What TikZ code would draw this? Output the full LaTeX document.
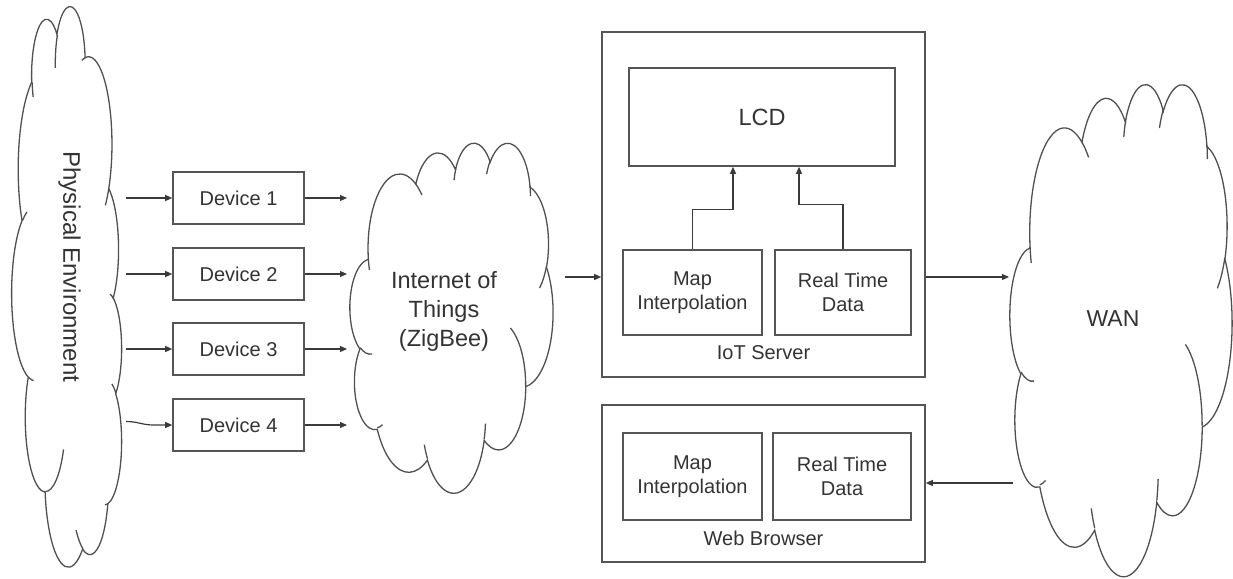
\documentclass[tikz,border=0pt]{standalone}
\usepackage{fontspec}
\setmainfont{Liberation Sans}
\usetikzlibrary{arrows.meta}
\definecolor{linecol}{HTML}{3A3A3A}
\definecolor{boxcol}{HTML}{555555}
\definecolor{cloudcol}{HTML}{505050}
\definecolor{txtcol}{HTML}{333333}
% one arc of the cloud outline; angles given as visual angles, converted to parametric ones
\newcommand\CArc[4]{%
  \pgfmathsetmacro\CAa{atan2((#1)*sin(#3),(#2)*cos(#3))}%
  \pgfmathsetmacro\CAb{atan2((#1)*sin((#3)+(#4)),(#2)*cos((#3)+(#4)))}%
  \pgfmathsetmacro\CAd{mod(\CAb-(\CAa)+720,360)}%
  \pgfmathsetmacro\CAe{\CAa+\CAd}%
  \pgfpatharcaxes{\CAa}{\CAe}{\pgfpointxy{#1}{0}}{\pgfpointxy{0}{#2}}%
}
\newcommand\CloudOutline{%
  \pgfpathmoveto{\pgfpointxy{3.900}{14.370}}%
  \CArc{6.753}{9.190}{-190.4875}{123.7805}%
  \CArc{5.333}{7.267}{-144.1024}{89.9452}%
  \CArc{4.365}{5.945}{-145.8079}{99.7230}%
  \CArc{4.857}{6.595}{-130.9861}{117.2417}%
  \CArc{5.333}{7.273}{-78.7089}{109.0269}%
  \CArc{6.775}{9.220}{-46.2673}{130.2690}%
  \CArc{5.785}{7.867}{0.6250}{114.0333}%
  \CArc{6.752}{9.215}{22.4516}{115.1726}%
  \CArc{7.720}{10.543}{66.2426}{75.7110}%
  \CArc{4.360}{5.918}{-274.9421}{146.7356}%
  \CArc{4.345}{5.945}{-246.8285}{152.5189}%
  \pgfpathclose
}
\newcommand\CloudInner{%
  \pgfpathmoveto{\pgfpointxy{4.693}{26.177}}\CArc{4.345}{5.945}{86.7420}{26.4295}%
  \pgfpathmoveto{\pgfpointxy{6.928}{34.899}}\CArc{4.360}{5.918}{73.6105}{11.4475}%
  \pgfpathmoveto{\pgfpointxy{16.478}{39.090}}\CArc{6.752}{9.215}{137.6242}{14.0811}%
  \pgfpathmoveto{\pgfpointxy{28.827}{34.751}}\CArc{6.752}{9.215}{6.4533}{15.9984}%
  \pgfpathmoveto{\pgfpointxy{34.129}{22.954}}\CArc{5.785}{7.867}{-70.2924}{70.9174}%
  \pgfpathmoveto{\pgfpointxy{41.798}{15.354}}\CArc{5.333}{7.273}{30.3180}{27.7515}%
  \pgfpathmoveto{\pgfpointxy{38.324}{5.426}}\CArc{4.857}{6.595}{-13.7443}{14.8589}%
  \pgfpathmoveto{\pgfpointxy{29.078}{3.952}}\CArc{4.857}{6.595}{-149.1815}{18.1954}%
  \pgfpathmoveto{\pgfpointxy{22.141}{4.720}}\CArc{4.365}{5.945}{-163.4943}{17.6864}%
  \pgfpathmoveto{\pgfpointxy{14.000}{5.192}}\CArc{6.753}{9.190}{-66.7070}{12.3194}%
  \pgfpathmoveto{\pgfpointxy{4.127}{15.789}}\CArc{6.753}{9.190}{157.6544}{11.8582}%
}
\newcommand\DrawCloud{%
  \pgfsetstrokecolor{cloudcol}\pgfsetlinewidth{1.3pt}%
  \CloudOutline\pgfusepath{stroke}%
  \CloudInner\pgfusepath{stroke}%
}
\begin{document}
\begin{tikzpicture}[x=1pt,y=-1pt,
  box/.style={draw=boxcol, line width=1.6pt, inner sep=0pt, align=center, text=txtcol,
              font=\fontsize{20}{24}\selectfont},
  txt/.style={inner sep=0pt, align=center, text=txtcol, font=\fontsize{20}{24}\selectfont},
  bigtxt/.style={inner sep=0pt, align=center, text=txtcol, font=\fontsize{23.5}{29}\selectfont},
  arr/.style={draw=linecol, line width=1.2pt, -{Triangle[length=7pt,width=6pt]}}]
\useasboundingbox (0,0) rectangle (1233,578);
% clouds
\begin{scope}[shift={(122,7)}, x={(0pt,-12.963pt)}, y={(-2.546pt,0pt)}] \DrawCloud \end{scope}
\begin{scope}[shift={(350,142)}, x={(4.699pt,0pt)}, y={(0pt,-8.102pt)}] \DrawCloud \end{scope}
\begin{scope}[shift={(1010,83)}, x={(5.139pt,0pt)}, y={(0pt,-11.389pt)}] \DrawCloud \end{scope}
% cloud texts
\node[bigtxt, rotate=-90, font=\fontsize{24}{28}\selectfont] (pe) at (69.5,267) {Physical Environment};
\node[bigtxt] (iot) at (444,311) {Internet of\\Things\\(ZigBee)};
\node[bigtxt, font=\fontsize{23}{28}\selectfont] (wan) at (1113,319) {WAN};
% devices
\node[box, minimum width=131pt, minimum height=52pt] (d1) at (238.5,198) {Device 1};
\node[box, minimum width=131pt, minimum height=52pt] (d2) at (238.5,274) {Device 2};
\node[box, minimum width=131pt, minimum height=52pt] (d3) at (238.5,349) {Device 3};
\node[box, minimum width=131pt, minimum height=52pt] (d4) at (238.5,425) {Device 4};
\coordinate (pe1) at (126,198);
\coordinate (pe2) at (126,274);
\coordinate (pe3) at (126,349);
\coordinate (pe4) at (126,421.5);
\coordinate (io1) at (347,198);
\coordinate (io2) at (347,274);
\coordinate (io3) at (347,349);
\coordinate (io4) at (347,425);
\draw[arr] (pe1) -- (d1);
\draw[arr] (pe2) -- (d2);
\draw[arr] (pe3) -- (d3);
\draw[arr] (pe4) .. controls (138,421.5) and (142,425) .. (154,425) -- (d4.west);
\draw[arr] (d1) -- (io1);
\draw[arr] (d2) -- (io2);
\draw[arr] (d3) -- (io3);
\draw[arr] (d4) -- (io4);
% IoT server
\node[box, minimum width=323pt, minimum height=345pt] (srv) at (763.5,204.5) {};
\node[box, minimum width=266pt, minimum height=98pt, font=\fontsize{23.5}{28}\selectfont] (lcd) at (762,117) {LCD};
\node[box, minimum width=139pt, minimum height=85pt] (m1) at (692.5,292.5) {Map\\Interpolation};
\node[box, minimum width=136pt, minimum height=85pt] (r1) at (843,292.5) {Real Time\\Data};
\node[txt] (srvl) at (763.5,353) {IoT Server};
\draw[arr] (m1.north) -- ++(0,-40) -| ([xshift=-29pt]lcd.south);
\draw[arr] (r1.north) -- ++(0,-45) -| ([xshift=37pt]lcd.south);
% web browser
\node[box, minimum width=323pt, minimum height=157pt] (web) at (763.5,483.5) {};
\node[box, minimum width=139pt, minimum height=87pt] (m2) at (692.5,476.5) {Map\\Interpolation};
\node[box, minimum width=138pt, minimum height=87pt] (r2) at (842,476.5) {Real Time\\Data};
\node[txt] (webl) at (763.5,538) {Web Browser};
% links
\coordinate (iotout) at (565,277);
\coordinate (wanin) at (1009,277);
\coordinate (wanout) at (1013,483);
\draw[arr] (iotout) -- (srv.west |- iotout);
\draw[arr] (srv.east |- wanin) -- (wanin);
\draw[arr] (wanout) -- (web.east |- wanout);
\end{tikzpicture}
\end{document}
